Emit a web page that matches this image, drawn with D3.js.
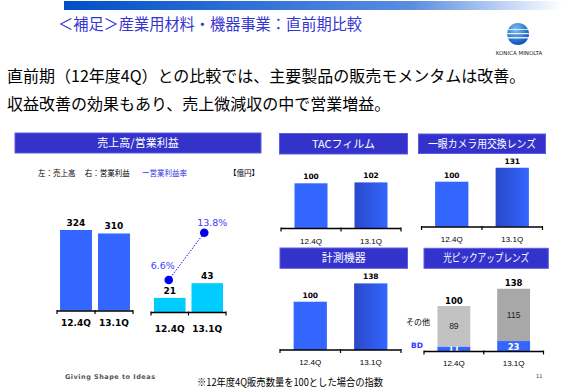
<!DOCTYPE html>
<html>
<head>
<meta charset="utf-8">
<script src="https://cdn.jsdelivr.net/npm/d3@7"></script>
<style>
  body { margin: 0; background: #fff; }
  text { font-family: "Noto Sans CJK JP", sans-serif; }
  .num { font-family: "DejaVu Sans", sans-serif; font-weight: bold; }
  .per { font-family: "Liberation Sans", sans-serif; }
</style>
</head>
<body>
<script>
// data
var periods = ["12.4Q", "13.1Q"];
var sales = [324, 310];
var opIncome = [21, 43];
var opMargin = [6.6, 13.8];
var tacIndex = [100, 102];
var cameraLensIndex = [100, 131];
var measureIndex = [100, 138];
var pickupBD = [11, 23];
var pickupOther = [89, 115];

var width = 562, height = 390;
var svg = d3.select("body").append("svg")
    .attr("width", width)
    .attr("height", height);

var defs = svg.append("defs");
var topGrad = defs.append("linearGradient").attr("id", "topGrad");
topGrad.append("stop").attr("offset", "0%").attr("stop-color", "#0050c8");
topGrad.append("stop").attr("offset", "70%").attr("stop-color", "#5a8ee0");
topGrad.append("stop").attr("offset", "100%").attr("stop-color", "#ffffff");

var barGrad = defs.append("linearGradient").attr("id", "barGrad");
barGrad.append("stop").attr("offset", "0%").attr("stop-color", "#2a48c8");
barGrad.append("stop").attr("offset", "100%").attr("stop-color", "#3366ff");

var logoGrad = defs.append("radialGradient").attr("id", "logoGrad")
    .attr("cx", "40%").attr("cy", "30%").attr("r", "70%");
logoGrad.append("stop").attr("offset", "0%").attr("stop-color", "#7cc4f4");
logoGrad.append("stop").attr("offset", "100%").attr("stop-color", "#0a52b8");

// page header
svg.append("rect").attr("x", 64).attr("y", 1).attr("width", 498).attr("height", 9)
    .style("fill", "url(#topGrad)");
svg.append("text").attr("x", 58).attr("y", 30)
    .attr("textLength", 304).attr("lengthAdjust", "spacingAndGlyphs")
    .style("font-size", "15.5px").style("fill", "#3535d0")
    .text("＜補足＞産業用材料・機器事業：直前期比較");

// logo
svg.append("circle").attr("cx", 518).attr("cy", 34).attr("r", 11)
    .style("fill", "url(#logoGrad)");
[29, 33, 37].forEach(function (yy, i) {
  svg.append("rect").attr("x", 506).attr("y", yy).attr("width", 24).attr("height", 0.9 + i * 0.3)
      .style("fill", "#ffffff").style("opacity", 0.85);
});
svg.append("text").attr("x", 519).attr("y", 55).attr("text-anchor", "middle")
    .style("font-family", "DejaVu Sans").style("font-size", "5.5px").style("fill", "#222")
    .text("KONICA MINOLTA");

// message
svg.append("text").attr("x", 7).attr("y", 82).style("font-size", "16px").style("fill", "#000")
    .text("直前期（12年度4Q）との比較では、主要製品の販売モメンタムは改善。");
svg.append("text").attr("x", 7).attr("y", 110).style("font-size", "16px").style("fill", "#000")
    .text("収益改善の効果もあり、売上微減収の中で営業増益。");

function header(x0, y0, w, h, label, len) {
  svg.append("rect").attr("x", x0).attr("y", y0).attr("width", w).attr("height", h)
      .style("fill", "#3333cc").style("stroke", "#5c5ce0").style("stroke-width", 1);
  var t = svg.append("text").attr("x", x0 + w / 2).attr("y", y0 + h / 2 + 4)
      .attr("text-anchor", "middle").style("font-size", "11px").style("fill", "#fff")
      .text(label);
  if (len) t.attr("textLength", len).attr("lengthAdjust", "spacingAndGlyphs");
}

function bandX(x0, x1, pad) {
  return d3.scaleBand().domain(periods).range([x0, x1])
      .paddingInner(pad).paddingOuter(pad / 2);
}

function axisLine(x, y0) {
  var r = x.range();
  var mid = (x(periods[0]) + x.bandwidth() + x(periods[1])) / 2;
  var g = svg.append("g").style("stroke", "#000");
  g.append("line").attr("x1", r[0]).attr("x2", r[1]).attr("y1", y0).attr("y2", y0)
      .style("stroke-width", 1.3);
  [r[0], mid, r[1]].forEach(function (tx) {
    g.append("line").attr("x1", tx).attr("x2", tx).attr("y1", y0 - 1).attr("y2", y0 + 3)
        .style("stroke-width", 1.2);
  });
}

function simpleBars(values, x, y, fills, labelSize) {
  svg.append("g").selectAll("rect").data(values).enter().append("rect")
      .attr("x", function (d, i) { return x(periods[i]); })
      .attr("y", function (d) { return y(d); })
      .attr("width", x.bandwidth())
      .attr("height", function (d) { return y(0) - y(d); })
      .style("fill", function (d, i) { return fills[i]; });
  svg.append("g").selectAll("text").data(values).enter().append("text")
      .attr("class", "num")
      .attr("x", function (d, i) { return x(periods[i]) + x.bandwidth() / 2; })
      .attr("y", function (d) { return y(d) - 4; })
      .attr("text-anchor", "middle").style("font-size", labelSize).style("fill", "#000")
      .text(function (d) { return d; });
}

function periodLabels(x, yy, cls, size) {
  svg.append("g").selectAll("text").data(periods).enter().append("text")
      .attr("class", cls)
      .attr("x", function (d) { return x(d) + x.bandwidth() / 2; })
      .attr("y", yy).attr("text-anchor", "middle")
      .style("font-size", size).style("fill", "#000")
      .text(function (d) { return d; });
}

// left panel: sales / operating income
header(15, 133, 246, 20, "売上高/営業利益");
svg.append("text").attr("x", 38).attr("y", 176).style("font-size", "7.5px").style("fill", "#000")
    .text("左：売上高　 右：営業利益");
svg.append("text").attr("x", 142).attr("y", 176).style("font-size", "7.5px").style("fill", "#3333dd")
    .text("ー営業利益率");
svg.append("text").attr("x", 229).attr("y", 176).style("font-size", "7.5px").style("fill", "#000")
    .text("【億円】");

var xSales = bandX(57, 133, 0.16);
var ySales = d3.scaleLinear().domain([0, 324]).range([310.5, 230]);
simpleBars(sales, xSales, ySales, ["#3366ff", "#3366ff"], "9px");
axisLine(xSales, 311);
periodLabels(xSales, 326, "num", "9px");

var xOp = bandX(151, 226, 0.16);
var yOp = d3.scaleLinear().domain([0, 50]).range([312, 278.5]);
simpleBars(opIncome, xOp, yOp, ["#00ccff", "#00ccff"], "9px");
axisLine(xOp, 312.5);
periodLabels(xOp, 331.5, "num", "9px");

// operating margin line
var yMargin = d3.scaleLinear().domain([0, 15]).range([323.4, 224.8]);
var marginPts = opMargin.map(function (d, i) {
  return [xOp(periods[i]) + xOp.bandwidth() / 2 - (i ? 3 : 1), yMargin(d)];
});
svg.append("path").attr("d", d3.line()(marginPts))
    .style("fill", "none").style("stroke", "#0000ff").style("stroke-width", 1)
    .style("stroke-dasharray", "1.5,1.5");
svg.append("g").selectAll("circle").data(marginPts).enter().append("circle")
    .attr("cx", function (d) { return d[0]; }).attr("cy", function (d) { return d[1]; })
    .attr("r", 4.3).style("fill", "#0000ee");
var marginOffsets = [[-6, -11], [8, -7]];
svg.append("g").selectAll("text").data(opMargin).enter().append("text")
    .attr("x", function (d, i) { return marginPts[i][0] + marginOffsets[i][0]; })
    .attr("y", function (d, i) { return marginPts[i][1] + marginOffsets[i][1]; })
    .attr("text-anchor", "middle")
    .style("font-family", "DejaVu Sans").style("font-size", "9.5px").style("fill", "#4040ff")
    .text(function (d) { return d.toFixed(1) + "%"; });

// TAC film
header(279.5, 133.5, 128, 20.5, "TACフィルム");
var xTac = bandX(281, 401, 0.45);
var yTac = d3.scaleLinear().domain([0, 150]).range([228.3, 160.8]);
simpleBars(tacIndex, xTac, yTac, ["#3366ff", "url(#barGrad)"], "7.5px");
axisLine(xTac, 228.5);
periodLabels(xTac, 243.5, "per", "8px");

// interchangeable camera lenses
header(418.5, 134, 127, 19.5, "一眼カメラ用交換レンズ", 108);
var xCam = bandX(421.5, 542.5, 0.45);
var yCam = d3.scaleLinear().domain([0, 150]).range([226.7, 159.2]);
simpleBars(cameraLensIndex, xCam, yCam, ["#3366ff", "url(#barGrad)"], "7.5px");
axisLine(xCam, 227);
periodLabels(xCam, 242, "per", "8px");

// measuring instruments
header(280, 248, 127.5, 20.3, "計測機器");
var xMeas = bandX(280, 401, 0.45);
var yMeas = d3.scaleLinear().domain([0, 150]).range([350, 277.6]);
simpleBars(measureIndex, xMeas, yMeas, ["#3366ff", "url(#barGrad)"], "7.5px");
axisLine(xMeas, 350);
periodLabels(xMeas, 364.5, "per", "8px");

// optical pickup lenses (stacked)
header(424, 248.3, 124.3, 20, "光ピックアップレンズ", 86);
var xPick = bandX(424, 543.5, 0.45);
var yPick = d3.scaleLinear().domain([0, 150]).range([351.5, 283.3]);
var pickRows = periods.map(function (p, i) { return { period: p, bd: pickupBD[i], other: pickupOther[i] }; });
var stack = d3.stack().keys(["bd", "other"])(pickRows);
var segFill = { bd: ["#3366ff", "#3366ff"], other: ["#c2c2c2", "#a8a8a8"] };
stack.forEach(function (layer) {
  svg.append("g").selectAll("rect").data(layer).enter().append("rect")
      .attr("x", function (d) { return xPick(d.data.period); })
      .attr("y", function (d) { return yPick(d[1]); })
      .attr("width", xPick.bandwidth())
      .attr("height", function (d) { return yPick(d[0]) - yPick(d[1]); })
      .style("fill", function (d, i) { return segFill[layer.key][i]; });
  svg.append("g").selectAll("text").data(layer).enter().append("text")
      .attr("class", layer.key === "bd" ? "num" : "per")
      .attr("x", function (d) { return xPick(d.data.period) + xPick.bandwidth() / 2; })
      .attr("y", function (d) { return (yPick(d[0]) + yPick(d[1])) / 2 + (layer.key === "bd" ? 3.5 : 3); })
      .attr("text-anchor", "middle")
      .style("font-size", "8.5px")
      .style("fill", layer.key === "bd" ? "#fff" : "#222")
      .text(function (d) { return d.data[layer.key]; });
});
axisLine(xPick, 351.5);
svg.append("g").selectAll("text").data(pickRows).enter().append("text")
    .attr("class", "num")
    .attr("x", function (d) { return xPick(d.period) + xPick.bandwidth() / 2; })
    .attr("y", function (d) { return yPick(d.bd + d.other) - 2.5; })
    .attr("text-anchor", "middle").style("font-size", "8.5px").style("fill", "#000")
    .text(function (d) { return d.bd + d.other; });
svg.append("text").attr("x", 406).attr("y", 325).style("font-size", "8px").style("fill", "#000")
    .text("その他");
svg.append("text").attr("class", "num").attr("x", 411).attr("y", 348)
    .style("font-size", "7.5px").style("fill", "#3333ff").text("BD");
periodLabels(xPick, 365.5, "per", "8px");

// footer
svg.append("text").attr("x", 65).attr("y", 378.5)
    .attr("textLength", 90).attr("lengthAdjust", "spacing")
    .style("font-family", "DejaVu Sans").style("font-weight", "bold")
    .style("font-size", "6.5px").style("fill", "#555")
    .text("Giving Shape to Ideas");
svg.append("text").attr("x", 197).attr("y", 386)
    .attr("textLength", 186).attr("lengthAdjust", "spacingAndGlyphs")
    .style("font-size", "10px").style("fill", "#000")
    .text("※12年度4Q販売数量を100とした場合の指数");
svg.append("text").attr("x", 536).attr("y", 378).style("font-family", "DejaVu Sans")
    .style("font-size", "5px").style("fill", "#333").text("11");
</script>
</body>
</html>
